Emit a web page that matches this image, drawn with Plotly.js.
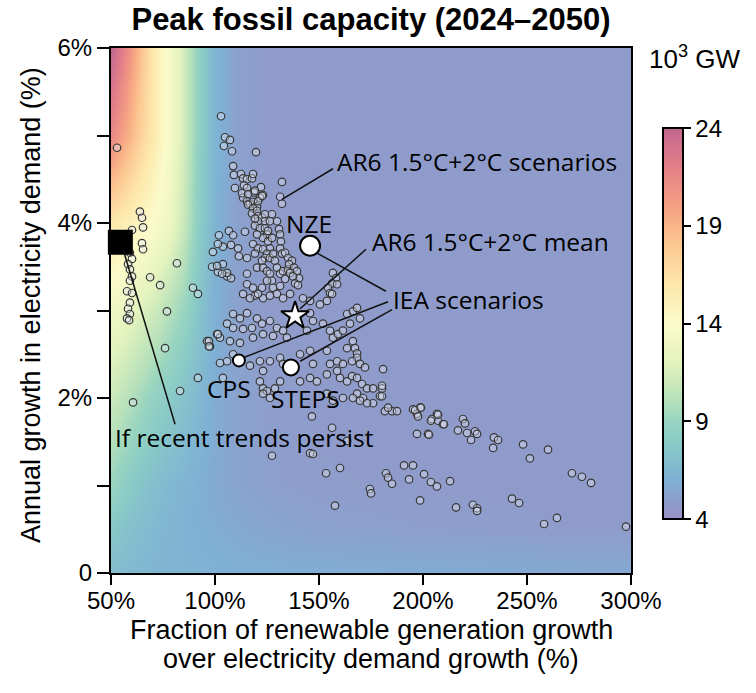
<!DOCTYPE html>
<html>
<head>
<meta charset="utf-8">
<script src="https://cdn.plot.ly/plotly-3.0.1.min.js"></script>
<style>html,body{margin:0;padding:0;background:#fff;}#chart{width:756px;height:693px;}</style>
</head>
<body>
<div id="chart"></div>
<script>
// ---- Heatmap field (peak fossil capacity, 10^3 GW) ----
const gridX = [50, 57, 64, 71, 78, 85, 92, 100, 110, 125, 150, 200, 250, 300];
const gridY = [0, 0.5, 1, 2, 3, 4, 5, 6];
const peakCap = [
  [6.9, 6.7, 6.5, 6.4, 6.3, 6.25, 6.2, 6.1, 6.0, 5.95, 5.85, 5.75, 5.65, 5.55],
  [7.8, 7.3, 6.9, 6.6, 6.4, 6.2, 6.0, 5.8, 5.6, 5.35, 5.1, 4.95, 4.85, 4.8],
  [9.0, 8.2, 7.5, 7.0, 6.6, 6.3, 6.0, 5.6, 5.3, 5.0, 4.85, 4.8, 4.8, 4.8],
  [11.0, 10.2, 9.4, 8.6, 8.0, 7.3, 6.6, 5.8, 5.2, 4.9, 4.8, 4.8, 4.8, 4.8],
  [13.0, 12.5, 11.8, 11.0, 10.0, 9.0, 7.5, 6.0, 5.1, 4.8, 4.8, 4.8, 4.8, 4.8],
  [16.0, 15.3, 14.6, 13.8, 12.8, 10.8, 8.3, 6.2, 5.1, 4.8, 4.8, 4.8, 4.8, 4.8],
  [21.5, 19.5, 17.5, 15.5, 13.6, 11.2, 8.6, 6.3, 5.1, 4.8, 4.8, 4.8, 4.8, 4.8],
  [24.0, 21.5, 18.5, 15.5, 13.5, 11.2, 8.6, 6.3, 5.1, 4.8, 4.8, 4.8, 4.8, 4.8]
];
const cbTicks = [4, 9, 14, 19, 24];

// ---- AR6 1.5°C + 2°C scenarios: x = renewable growth fraction (%), y = demand growth (%) ----
const ar6X = [
  102.9,52.9,104.8,107.2,104.3,108.2,119.7,108.7,109.1,112.5,
  113.5,115.4,117.8,118.3,109.6,113.9,115.4,122.1,132.2,118.8,
  123.1,131.3,132.2,113.5,115.4,116.8,118.3,120.2,113.0,115.9,
  119.2,121.6,120.7,122.6,127.4,129.8,63.9,64.9,65.4,60.1,
  101.9,106.7,108.7,114.4,115.9,118.3,117.8,120.2,120.7,122.6,
  124.0,124.0,120.7,119.2,126.4,119.2,121.6,124.0,125.0,125.5,
  123.1,125.5,127.4,120.2,126.4,130.8,131.3,131.7,103.8,107.7,
  111.1,99.0,111.5,115.4,103.8,98.6,101.4,105.8,107.7,115.4,
  118.3,120.7,123.1,125.0,124.0,126.4,127.9,128.8,119.2,122.6,
  131.3,132.2,120.2,123.1,125.0,126.4,129.8,131.3,132.7,127.4,
  133.7,135.1,133.7,135.1,137.0,135.6,138.0,139.4,140.4,136.1,
  137.5,138.5,139.9,156.7,158.2,156.3,158.7,154.3,155.3,115.4,
  118.3,122.6,125.0,127.9,131.3,113.5,119.2,123.1,129.8,132.7,
  142.3,116.8,120.7,126.4,136.1,145.7,108.7,112.0,115.4,120.2,
  122.6,126.4,129.8,132.7,105.8,108.7,113.5,117.8,96.2,97.6,
  101.0,102.4,107.2,112.0,118.3,123.1,127.9,134.6,144.2,147.1,
  145.7,150.5,153.8,156.3,163.5,166.3,168.3,169.7,164.9,151.9,
  155.3,156.7,159.1,161.5,163.5,166.3,167.3,168.3,168.3,169.7,
  172.1,102.4,105.8,108.7,116.8,121.6,123.1,126.4,131.3,132.7,
  140.9,145.7,147.1,153.8,155.3,158.7,161.5,165.9,121.6,123.1,
  125.0,123.1,126.4,128.8,131.3,140.9,145.7,153.8,158.7,160.1,
  163.5,165.9,168.3,170.7,173.1,168.3,171.2,176.0,180.3,180.8,
  179.3,176.0,173.1,169.7,166.3,161.5,156.7,153.8,149.0,181.7,
  185.1,187.5,195.2,198.6,197.1,204.3,206.7,207.2,209.6,146.6,
  156.3,163.5,145.7,147.1,127.4,153.4,160.1,157.7,174.5,175.0,
  182.2,183.2,185.1,190.9,195.2,193.3,200.5,203.8,206.7,213.0,
  198.6,215.9,224.0,226.0,226.0,242.8,246.2,258.2,264.4,297.6,
  197.1,202.4,180.3,180.3,183.2,196.2,199.0,197.6,207.2,203.8,
  210.1,202.9,219.2,220.2,216.8,221.2,225.0,226.0,223.1,234.1,
  236.1,233.7,248.1,260.1,251.4,271.6,276.4,280.8,64.9,65.4,
  59.1,60.1,58.2,59.1,60.1,59.1,57.7,60.1,59.1,58.2,
  59.1,57.7,58.7,68.8,73.6,81.7,89.4,91.8,76.9,76.0,
  60.6,83.2,91.8,97.1,97.1,101.4,101.4,101.0,105.8,103.4,103.8
];
const ar6Y = [
  5.22,4.86,4.98,4.95,4.88,4.82,4.81,4.65,4.55,4.56,
  4.51,4.50,4.51,4.56,4.40,4.43,4.40,4.41,4.47,4.35,
  4.32,4.30,4.22,4.29,4.25,4.22,4.24,4.19,4.34,4.33,
  4.37,4.29,4.25,4.31,4.10,4.02,4.13,4.06,3.95,3.92,
  3.86,3.91,3.86,3.90,4.21,4.17,4.11,4.14,4.08,4.06,
  4.10,4.02,4.02,4.05,4.02,3.97,3.94,3.94,3.87,3.91,
  3.83,3.79,3.83,3.87,3.71,3.93,3.87,3.79,3.73,3.75,
  3.71,3.67,3.62,3.60,3.53,3.50,3.44,3.39,3.37,3.42,
  3.76,3.71,3.70,3.65,3.60,3.60,3.65,3.57,3.65,3.57,
  3.71,3.65,3.49,3.49,3.45,3.42,3.49,3.42,3.45,3.34,
  3.36,3.47,3.66,3.60,3.57,3.53,3.49,3.45,3.37,3.43,
  3.39,3.31,3.29,3.43,3.37,3.31,3.30,3.26,3.20,3.30,
  3.26,3.26,3.34,3.26,3.28,3.19,3.17,3.14,3.19,3.14,
  3.14,3.14,3.19,3.17,3.19,3.11,2.96,2.91,2.97,2.91,
  2.85,2.88,2.80,2.77,2.85,2.80,2.79,2.80,2.65,2.59,
  2.73,2.69,2.65,2.63,2.69,2.73,2.71,2.69,2.77,2.88,
  2.97,3.07,3.11,3.19,2.96,2.99,3.03,2.91,2.85,2.85,
  2.77,2.69,2.73,2.77,2.57,2.65,2.57,2.51,2.46,2.39,
  2.35,2.40,2.42,2.50,2.37,2.42,2.31,2.42,2.46,2.39,
  2.50,2.54,2.39,2.54,2.39,2.42,2.39,2.42,2.19,2.11,
  2.08,2.05,2.00,2.11,2.19,2.19,2.23,2.27,2.31,2.23,
  2.19,2.25,2.23,2.16,2.11,2.05,2.00,2.11,2.11,2.33,
  2.02,1.94,1.94,1.97,2.00,2.00,1.97,2.05,2.19,1.85,
  1.85,1.85,1.87,1.89,1.82,1.76,1.82,1.74,1.70,1.79,
  1.66,1.51,1.37,1.36,1.34,1.14,1.20,0.77,0.96,0.91,
  1.14,1.09,1.02,1.23,1.23,1.07,1.13,1.04,0.99,1.05,
  0.83,0.75,0.78,0.74,0.71,0.85,0.80,0.56,0.63,0.53,
  1.59,1.59,2.14,2.02,1.89,1.86,1.89,1.79,1.81,1.74,
  1.70,1.58,1.76,1.71,1.63,1.60,1.62,1.59,1.52,1.55,
  1.52,1.43,1.47,1.41,1.31,1.14,1.10,1.03,3.77,3.70,
  3.66,3.59,3.53,3.47,3.39,3.34,3.22,3.20,3.09,3.02,
  2.96,2.91,2.89,3.38,3.29,3.54,3.26,3.19,2.99,2.57,
  1.95,2.08,2.23,2.65,2.59,2.73,3.76,3.51,3.43,3.42,2.23
];

// ---- Highlighted scenarios ----
const ar6MeanX = [138.5], ar6MeanY = [2.94];
const ieaNames = ['NZE', 'STEPS', 'CPS'];
const ieaX = [145.7, 136.5, 111.5];
const ieaY = [3.74, 2.35, 2.43];
const trendX = [54.5], trendY = [3.78];

const xTicks = [50, 100, 150, 200, 250, 300];
const xTickText = ['50%', '100%', '150%', '200%', '250%', '300%'];
const yTicks = [0, 2, 4, 6];
const yTickText = ['0', '2%', '4%', '6%'];
const yMinorTicks = [1, 3, 5];

const colorscale = [
  [0.0, '#9890c6'], [0.04, '#8f9ccb'], [0.1, '#7eb0d5'], [0.2, '#8acbc6'],
  [0.25, '#98d4c0'], [0.3, '#b5e0bb'], [0.4, '#e4f3bd'], [0.5, '#fbfbca'],
  [0.6, '#fde7aa'], [0.7, '#fcc894'], [0.75, '#f9b487'], [0.8, '#f5a083'],
  [0.9, '#e37f88'], [1.0, '#c2668f']
];

const FONT = 'Liberation Sans, Arial, sans-serif';
const AFONT = 'Open Sans, Noto Sans, sans-serif';

const traces = [
  {
    type: 'heatmap', x: gridX, y: gridY, z: peakCap, zmin: 4, zmax: 24,
    zsmooth: 'best', colorscale: colorscale, hoverinfo: 'skip',
    colorbar: {
      x: 1.0615, xanchor: 'left', y: 0.475, yanchor: 'middle',
      len: 0.745, lenmode: 'fraction', thickness: 20, thicknessmode: 'pixels',
      xpad: 0, ypad: 0, outlinewidth: 2, outlinecolor: '#000',
      ticks: 'outside', ticklen: 7, tickwidth: 2, tickcolor: '#000',
      tickvals: cbTicks, ticktext: cbTicks.map(String),
      tickfont: {family: FONT, size: 24, color: '#000'}
    }
  },
  {
    type: 'scatter', mode: 'markers', x: ar6X, y: ar6Y, hoverinfo: 'skip',
    marker: {size: 7.5, opacity: 1, color: 'rgba(228,230,242,0.4)', line: {color: '#383838', width: 1.2}}
  },
  {
    type: 'scatter', mode: 'markers', x: trendX, y: trendY, cliponaxis: false,
    marker: {symbol: 'square', size: 25, opacity: 1, color: '#000', line: {width: 0}}
  },
  {
    type: 'scatter', mode: 'markers', x: ieaX, y: ieaY, text: ieaNames,
    marker: {size: [20, 16, 12], opacity: 1, color: '#fff', line: {color: '#000', width: 2}}
  },
  {
    type: 'scatter', mode: 'markers', x: ar6MeanX, y: ar6MeanY,
    marker: {symbol: 'star', size: 21, opacity: 1, color: '#fff', line: {color: '#000', width: 2}}
  }
];

const lineStyle = {color: '#111', width: 1.5};
const shapes = [
  {type: 'line', xref: 'x', yref: 'y', x0: 132.2, y0: 4.27, x1: 156.7, y1: 4.62, line: lineStyle},
  {type: 'line', xref: 'x', yref: 'y', x0: 140.9, y0: 3.02, x1: 172.6, y1: 3.70, line: lineStyle},
  {type: 'line', xref: 'x', yref: 'y', x0: 149.5, y0: 3.65, x1: 182.2, y1: 3.22, line: lineStyle},
  {type: 'line', xref: 'x', yref: 'y', x0: 113.5, y0: 2.46, x1: 183.2, y1: 3.10, line: lineStyle},
  {type: 'line', xref: 'x', yref: 'y', x0: 140.9, y0: 2.42, x1: 185.1, y1: 3.01, line: lineStyle},
  {type: 'line', xref: 'x', yref: 'y', x0: 55.8, y0: 3.70, x1: 80.8, y1: 1.70, line: lineStyle}
];

const af = {family: AFONT, size: 24.5, color: '#000'};
const tf = {family: FONT, size: 27, color: '#000'};
const annotations = [
  {xref: 'x', yref: 'y', x: 157.7, y: 4.70, text: 'AR6 1.5°C+2°C scenarios', showarrow: false, xanchor: 'left', yanchor: 'middle', font: af},
  {xref: 'x', yref: 'y', x: 145.2, y: 4.00, text: 'NZE', showarrow: false, xanchor: 'center', yanchor: 'middle', font: af},
  {xref: 'x', yref: 'y', x: 174.5, y: 3.79, text: 'AR6 1.5°C+2°C mean', showarrow: false, xanchor: 'left', yanchor: 'middle', font: af},
  {xref: 'x', yref: 'y', x: 184.5, y: 3.13, text: 'IEA scenarios', showarrow: false, xanchor: 'left', yanchor: 'middle', font: af},
  {xref: 'x', yref: 'y', x: 106.7, y: 2.11, text: 'CPS', showarrow: false, xanchor: 'center', yanchor: 'middle', font: af},
  {xref: 'x', yref: 'y', x: 143.3, y: 2.00, text: 'STEPS', showarrow: false, xanchor: 'center', yanchor: 'middle', font: af},
  {xref: 'x', yref: 'y', x: 51.0, y: 1.55, text: 'If recent trends persist', showarrow: false, xanchor: 'left', yanchor: 'middle', font: af},
  {xref: 'paper', yref: 'paper', x: 1.123, y: 0.981, text: '10<sup>3</sup> GW', showarrow: false, xanchor: 'center', yanchor: 'middle', font: {family: FONT, size: 26, color: '#000'}},
  // axis titles
  {xref: 'paper', yref: 'paper', x: 0.5, y: -0.1086, text: 'Fraction of renewable generation growth', showarrow: false, xanchor: 'center', yanchor: 'middle', font: tf},
  {xref: 'paper', yref: 'paper', x: 0.5, y: -0.1638, text: 'over electricity demand growth (%)', showarrow: false, xanchor: 'center', yanchor: 'middle', font: tf},
  {xref: 'paper', yref: 'paper', x: -0.1538, y: 0.5105, text: 'Annual growth in electricity demand (%)', textangle: -90, showarrow: false, xanchor: 'center', yanchor: 'middle', font: tf}
];

const layout = {
  width: 756, height: 693,
  margin: {l: 111, r: 125, t: 48, b: 120, pad: 0},
  paper_bgcolor: '#fff', plot_bgcolor: '#fff',
  showlegend: false,
  title: {text: '<b>Peak fossil capacity (2024–2050)</b>', x: 0.5, xref: 'paper', y: 0.972, yref: 'container', yanchor: 'middle', font: {family: FONT, size: 31, color: '#000'}},
  xaxis: {
    range: [50, 300], tickvals: xTicks, ticktext: xTickText, ticks: 'outside', ticklen: 10, tickwidth: 2, tickcolor: '#000',
    ticklabelstandoff: -5,
    showline: true, linewidth: 2, linecolor: '#000', mirror: true, showgrid: false, zeroline: false,
    tickfont: {family: FONT, size: 24, color: '#000'}
  },
  yaxis: {
    range: [0, 6], tickvals: yTicks, ticktext: yTickText, ticks: 'outside', ticklen: 12, tickwidth: 2, tickcolor: '#000',
    minor: {tickvals: yMinorTicks, ticks: 'outside', ticklen: 12, tickwidth: 2, tickcolor: '#000', showgrid: false},
    showline: true, linewidth: 2, linecolor: '#000', mirror: true, showgrid: false, zeroline: false,
    tickfont: {family: FONT, size: 24, color: '#000'}
  },
  shapes: shapes,
  annotations: annotations
};

Plotly.newPlot('chart', traces, layout, {staticPlot: true, displayModeBar: false});
</script>
</body>
</html>
